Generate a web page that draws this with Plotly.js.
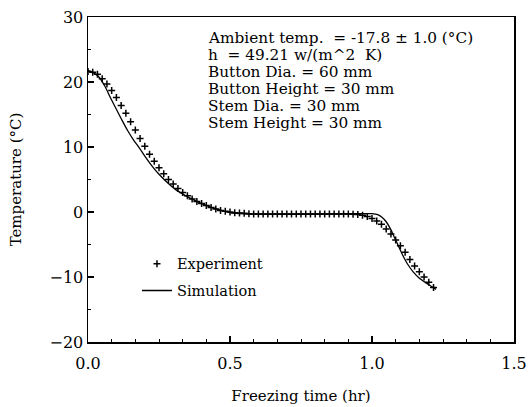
<!DOCTYPE html>
<html>
<head>
<meta charset="utf-8">
<script src="https://cdn.plot.ly/plotly-3.0.1.min.js"></script>
<style>html,body{margin:0;padding:0;background:#fff;}#chart{width:529px;height:407px;}</style>
</head>
<body>
<div id="chart"></div>
<script>
// Experiment: one reading per minute (time in hr)
const expMinutes = [0,1,2,3,4,5,6,7,8,9,10,11,12,13,14,15,16,17,18,19,20,21,22,23,24,25,26,27,28,29,30,31,32,33,34,35,36,37,38,39,40,41,42,43,44,45,46,47,48,49,50,51,52,53,54,55,56,57,58,59,60,61,62,63,64,65,66,67,68,69,70,71,72,73];
const expTemp = [21.6,21.5,21.2,20.5,19.7,18.7,17.6,16.4,15.2,13.9,12.6,11.3,10.1,8.9,7.8,6.8,5.9,5.0,4.3,3.6,3.0,2.5,2.0,1.6,1.3,1.0,0.7,0.45,0.25,0.1,0.0,-0.1,-0.15,-0.2,-0.25,-0.3,-0.3,-0.3,-0.3,-0.3,-0.3,-0.3,-0.3,-0.3,-0.3,-0.3,-0.3,-0.3,-0.3,-0.3,-0.3,-0.3,-0.3,-0.3,-0.3,-0.3,-0.35,-0.4,-0.5,-0.7,-1.0,-1.4,-1.9,-2.6,-3.4,-4.3,-5.2,-6.2,-7.3,-8.3,-9.2,-10.0,-10.8,-11.6];
const expTime = expMinutes.map(m => m / 60);

// Simulation curve
const simTime = [0,0.02,0.04,0.06,0.08,0.10,0.12,0.14,0.16,0.18,0.20,0.225,0.25,0.28,0.31,0.34,0.37,0.40,0.43,0.46,0.50,0.55,0.70,0.90,1.00,1.02,1.035,1.05,1.065,1.08,1.095,1.11,1.125,1.145,1.165,1.19,1.215,1.225];
const simTemp = [21.8,21.4,20.7,19.3,17.5,15.8,14.1,12.5,11.1,9.9,8.6,7.1,5.8,4.5,3.4,2.6,1.9,1.3,0.8,0.35,-0.1,-0.3,-0.35,-0.3,-0.25,-0.4,-0.8,-1.5,-2.6,-4.0,-5.4,-6.8,-8.0,-9.2,-10.1,-10.9,-11.6,-11.9];

const xTicks = [0, 0.5, 1.0, 1.5];
const xTickText = ['0.0', '0.5', '1.0', '1.5'];
const yTicks = [-20, -10, 0, 10, 20, 30];

const infoLines = [
  'Ambient temp.  = -17.8 \u00b1 1.0 (\u00b0C)',
  'h  = 49.21 w/(m^2  K)',
  'Button Dia. = 60 mm',
  'Button Height = 30 mm',
  'Stem Dia. = 30 mm',
  'Stem Height = 30 mm'
];

const serif = 'DejaVu Serif, Liberation Serif, serif';

const traces = [
  {
    x: expTime, y: expTemp, name: 'Experiment', type: 'scatter', mode: 'markers', legendgroup: 'e',
    marker: {symbol: 'cross-thin', size: 5, color: '#000', line: {color: '#000', width: 1.5}}
  },
  {
    x: simTime, y: simTemp, name: 'Simulation', type: 'scatter', mode: 'lines', legendgroup: 's',
    line: {color: '#000', width: 1.3, shape: 'spline', smoothing: 0.8}
  }
];

const annotations = infoLines.map((t, i) => ({
  xref: 'paper', yref: 'paper', x: (206 - 88) / 426, y: (342 - (38 + 17 * i)) / 325,
  xanchor: 'left', yanchor: 'middle', align: 'left', showarrow: false,
  text: t, font: {family: serif, size: 15.3, color: '#000'}
}));

const layout = {
  width: 529, height: 407,
  margin: {l: 88, r: 15, t: 17, b: 65},
  paper_bgcolor: '#fff', plot_bgcolor: '#fff',
  font: {family: serif, color: '#000', size: 14},
  showlegend: true,
  legend: {x: 0.115, y: 0.29, xanchor: 'left', yanchor: 'top', bgcolor: 'rgba(0,0,0,0)',
           font: {family: serif, size: 14.5, color: '#000'}, itemwidth: 30,
           traceorder: 'grouped', tracegroupgap: 5},
  xaxis: {
    range: [0, 1.5], tickvals: xTicks, ticktext: xTickText,
    showgrid: false, zeroline: false, showline: true, linecolor: '#000', linewidth: 1.5, mirror: true,
    ticks: 'inside', ticklen: 6, tickwidth: 1.2, tickcolor: '#000', ticklabelstandoff: 6,
    minor: {dtick: 1/12, tick0: 0, ticks: 'inside', ticklen: 3, tickwidth: 1, tickcolor: '#000', showgrid: false},
    tickfont: {family: serif, size: 16, color: '#000'},
    title: {text: 'Freezing time (hr)', font: {family: serif, size: 15, color: '#000'}, standoff: 19}
  },
  yaxis: {
    range: [-20, 30], tickvals: yTicks,
    showgrid: false, zeroline: false, showline: true, linecolor: '#000', linewidth: 1.5, mirror: true,
    ticks: 'inside', ticklen: 6, tickwidth: 1.2, tickcolor: '#000',
    minor: {dtick: 5, tick0: 0, ticks: 'inside', ticklen: 3, tickwidth: 1, tickcolor: '#000', showgrid: false},
    tickfont: {family: serif, size: 16, color: '#000'},
    title: {text: 'Temperature (\u00b0C)', font: {family: serif, size: 15, color: '#000'}, standoff: 24}
  },
  annotations: annotations
};

Plotly.newPlot('chart', traces, layout, {displayModeBar: false, staticPlot: true});
</script>
</body>
</html>
